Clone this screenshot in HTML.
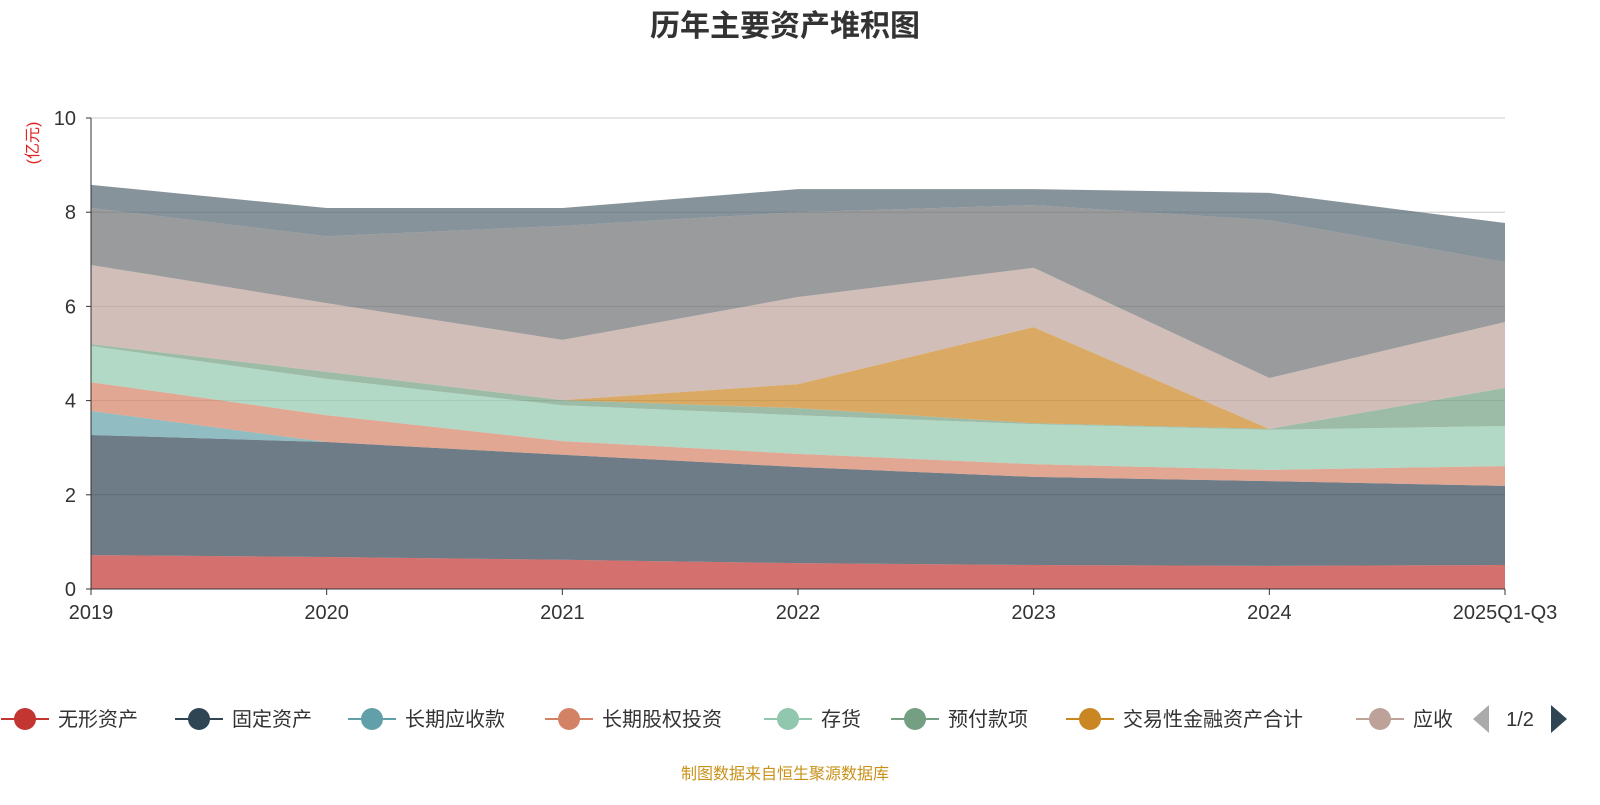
<!DOCTYPE html>
<html><head><meta charset="utf-8"><style>
body{margin:0;background:#fff;width:1600px;height:800px;overflow:hidden;font-family:"Liberation Sans","Noto Sans CJK SC",sans-serif}
</style></head><body>
<svg id="c" width="1600" height="800" font-family="Liberation Sans, Noto Sans CJK SC, sans-serif">
<text x="785" y="36" text-anchor="middle" font-size="30" font-weight="bold" fill="#333">历年主要资产堆积图</text>
<text x="38" y="143" transform="rotate(-90 38 143)" text-anchor="middle" font-size="16" fill="#e02020">(亿元)</text>
<g id="grid"></g><g id="areas"></g><g id="axes"></g><g id="legend"></g>
<text x="785" y="779" text-anchor="middle" font-size="16" fill="#c8921a">制图数据来自恒生聚源数据库</text>
</svg>
<script>
const categories=["2019","2020","2021","2022","2023","2024","2025Q1-Q3"];
const yTicks=[0,2,4,6,8,10];
const seriesNames=["无形资产","固定资产","长期应收款","长期股权投资","存货","预付款项","交易性金融资产合计","应收账款","其他1","其他2"];
const s0=[0.72,0.68,0.62,0.55,0.51,0.49,0.51];
const s1=[2.55,2.44,2.23,2.04,1.87,1.80,1.68];
const s2=[0.51,0,0,0,0,0,0];
const s3=[0.61,0.57,0.29,0.28,0.27,0.24,0.42];
const s4=[0.77,0.77,0.76,0.82,0.85,0.85,0.85];
const s5=[0.04,0.15,0.11,0.15,0.02,0.02,0.81];
const s6=[0,0,0,0.51,2.04,0,0];
const s7=[1.68,1.46,1.28,1.85,1.26,1.08,1.40];
const s8=[1.21,1.42,2.42,1.80,1.33,3.35,1.27];
const s9=[0.49,0.60,0.38,0.49,0.34,0.58,0.83];
const series=[s0,s1,s2,s3,s4,s5,s6,s7,s8,s9];
const colors=["#c23531","#2f4554","#61a0a8","#d48265","#91c7ae","#749f83","#ca8622","#bda29a","#6e7074","#546570"];
const ns="http://www.w3.org/2000/svg";
const X=i=>91+i*(1505-91)/(categories.length-1);
const Y=v=>589-v*(589-118)/10;
function mk(t,a,p){const e=document.createElementNS(ns,t);for(const k in a)e.setAttribute(k,a[k]);p.appendChild(e);return e;}
const grid=document.getElementById('grid'),areas=document.getElementById('areas'),axes=document.getElementById('axes'),leg=document.getElementById('legend');
yTicks.forEach(t=>{
 if(t>0){const l=mk('line',{x1:91,x2:1505,y1:Y(t),y2:Y(t),stroke:'#ccc'},grid);
 
 }
 const tx=mk('text',{x:76,y:Y(t)+7,'text-anchor':'end','font-size':20,fill:'#333'},axes);tx.textContent=t;
 
 
 mk('line',{x1:86,x2:91,y1:Y(t),y2:Y(t),stroke:'#333'},axes);
});
let base=categories.map(()=>0);
series.forEach((s,k)=>{
 const top=base.map((b,i)=>b+s[i]);
 let d='M'+top.map((v,i)=>X(i)+','+Y(v)).join('L');
 for(let i=categories.length-1;i>=0;i--)d+='L'+X(i)+','+Y(base[i]);
 const p=mk('path',{d:d+'Z',fill:colors[k],'fill-opacity':0.7,stroke:'none'},areas);
 
 
 base=top;
});
mk('line',{x1:91,x2:91,y1:118,y2:589,stroke:'#333'},axes);
mk('line',{x1:91,x2:1505,y1:589,y2:589,stroke:'#333'},axes);
categories.forEach((c,i)=>{
 mk('line',{x1:X(i),x2:X(i),y1:589,y2:595,stroke:'#333'},axes);
 const t=mk('text',{x:X(i),y:619,'text-anchor':'middle','font-size':20,fill:'#333'},axes);t.textContent=c;
 
 
});
const lx=[25,199,372,569,788,915,1090,1380];
lx.forEach((x,k)=>{
 const g=mk('g',{},leg);
 
 
 mk('line',{x1:x-24,x2:x+24,y1:719,y2:719,stroke:colors[k],'stroke-width':2},g);
 mk('circle',{cx:x,cy:719,r:11,fill:colors[k]},g);
 const t=mk('text',{x:x+33,y:726,'font-size':20,fill:'#333'},g);
 t.textContent=k==7?'应收':seriesNames[k];
});
mk('rect',{x:1452,y:700,width:20,height:40,fill:'#fff'},leg);
const pa=mk('path',{d:'M1489,705L1473,719L1489,733Z',fill:'#aaa'},leg);


const pt=mk('text',{x:1520,y:726,'text-anchor':'middle','font-size':20,fill:'#333'},leg);pt.textContent='1/2';


const pn=mk('path',{d:'M1551,705L1567,719L1551,733Z',fill:'#2f4554'},leg);


</script>
</body></html>
